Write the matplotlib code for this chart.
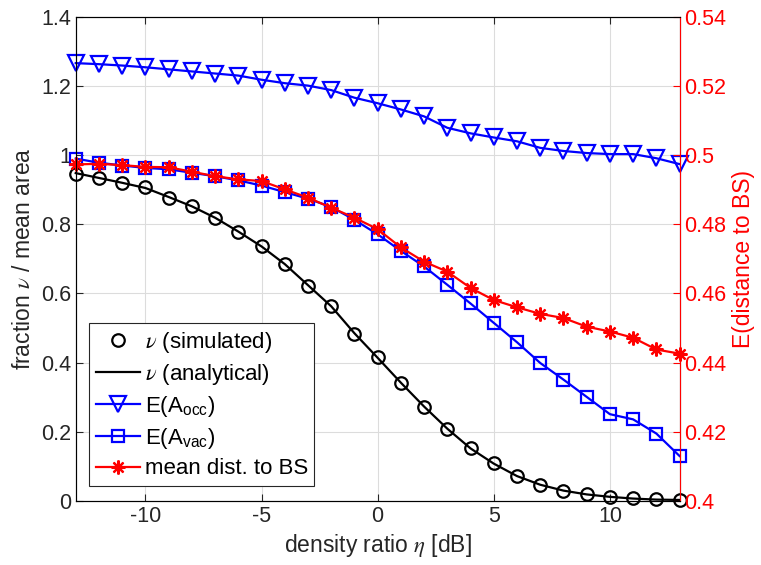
import numpy as np
import matplotlib
matplotlib.use("Agg")
from matplotlib import pyplot as plt
from matplotlib.lines import Line2D
from matplotlib.ticker import FormatStrFormatter

plt.rcParams['font.family'] = ['Liberation Sans', 'DejaVu Sans']
plt.rcParams['mathtext.fontset'] = 'stix'
plt.rcParams['axes.unicode_minus'] = False

# density ratio eta [dB]
eta = list(range(-13, 14))

nuSimulated = [0.946, 0.933, 0.920, 0.908, 0.877, 0.853, 0.819, 0.778, 0.738,
               0.685, 0.622, 0.565, 0.483, 0.415, 0.341, 0.272, 0.209, 0.152,
               0.109, 0.072, 0.046, 0.030, 0.020, 0.012, 0.008, 0.005, 0.003]
nuAnalytical = [0.948, 0.934, 0.920, 0.905, 0.879, 0.852, 0.819, 0.779, 0.736,
                0.685, 0.624, 0.563, 0.485, 0.414, 0.342, 0.273, 0.209, 0.152,
                0.108, 0.072, 0.047, 0.030, 0.019, 0.012, 0.007, 0.004, 0.003]
areaOcc = [1.266, 1.263, 1.259, 1.254, 1.248, 1.242, 1.236, 1.230, 1.218,
           1.208, 1.201, 1.188, 1.166, 1.150, 1.132, 1.112, 1.079, 1.063,
           1.051, 1.040, 1.021, 1.012, 1.006, 1.003, 1.003, 0.991, 0.974]
areaVac = [0.990, 0.978, 0.970, 0.963, 0.959, 0.949, 0.939, 0.927, 0.912,
           0.893, 0.874, 0.850, 0.813, 0.771, 0.723, 0.678, 0.625, 0.571,
           0.515, 0.459, 0.399, 0.351, 0.301, 0.251, 0.236, 0.195, 0.130]
meanDist = [0.4973, 0.4975, 0.4971, 0.4966, 0.4965, 0.4952, 0.4939, 0.4930,
            0.4925, 0.4901, 0.4877, 0.4848, 0.4819, 0.4786, 0.4733, 0.4692,
            0.4663, 0.4616, 0.4581, 0.4560, 0.4541, 0.4529, 0.4504, 0.4490,
            0.4472, 0.4438, 0.4426]

fig = plt.figure(figsize=(7.61, 5.65), dpi=100)
ax = fig.add_axes([0.0995, 0.1133, 0.7935, 0.857])
ax2 = ax.twinx()

lw = 1.6
ax.plot(eta, nuSimulated, 'o', color='k', mfc='none', ms=9, mew=lw,
        clip_on=False)
ax.plot(eta, nuAnalytical, '-', color='k', lw=lw, clip_on=False)
ax.plot(eta, areaOcc, '-v', color='b', mfc='none', ms=11, mew=lw, lw=lw,
        clip_on=False)
ax.plot(eta, areaVac, '-s', color='b', mfc='none', ms=9, mew=lw, lw=lw,
        clip_on=False)
ax2.plot(eta, meanDist, '-', color='r', marker=(8, 2, 0), ms=10, mew=lw,
         lw=lw, clip_on=False)

ax.set_xlim(-13, 13)
ax.set_ylim(0, 1.4)
ax.set_xticks([-10, -5, 0, 5, 10])
ax.set_yticks(np.arange(0, 1.41, 0.2))
ax.yaxis.set_major_formatter(FormatStrFormatter('%g'))
ax.grid(True, color='#dcdcdc', lw=0.8)
ax.set_axisbelow(True)
ax.tick_params(direction='in', top=True, labelsize=15.5, colors='#262626',
               length=5)
ax.tick_params(axis='y', right=False)
for s in ['left', 'bottom', 'top']:
    ax.spines[s].set_color('#262626')
ax.set_xlabel(r'density ratio $\eta$ [dB]', fontsize=16.5, color='#262626')
ax.set_ylabel(r'fraction $\nu$ / mean area', fontsize=16.5, color='#262626')

ax2.set_ylim(0.4, 0.54)
ax2.set_yticks(np.arange(0.4, 0.541, 0.02))
ax2.yaxis.set_major_formatter(FormatStrFormatter('%g'))
ax2.tick_params(direction='in', labelsize=15.5, colors='r', length=5)
ax2.spines['right'].set_color('r')
ax2.set_ylabel('E(distance to BS)', fontsize=16.5, color='r')

handles = [
    Line2D([], [], ls='none', marker='o', color='k', mfc='none', ms=9, mew=lw),
    Line2D([], [], ls='-', color='k', lw=lw),
    Line2D([], [], ls='-', marker='v', color='b', mfc='none', ms=11, mew=lw, lw=lw),
    Line2D([], [], ls='-', marker='s', color='b', mfc='none', ms=9, mew=lw, lw=lw),
    Line2D([], [], ls='-', marker=(8, 2, 0), color='r', ms=10, mew=lw, lw=lw),
]
labels = [r'$\nu$ (simulated)', r'$\nu$ (analytical)',
          r'E(A$_\mathregular{occ}$)', r'E(A$_\mathregular{vac}$)',
          'mean dist. to BS']
leg = ax2.legend(handles, labels, loc='lower left',
                 bbox_to_anchor=(0.022, 0.031), fontsize=16,
                 fancybox=False, framealpha=1, edgecolor='#262626',
                 handlelength=2.0, handletextpad=0.2, labelspacing=0.32,
                 borderpad=0.3, borderaxespad=0)
leg.get_frame().set_linewidth(0.8)

fig.savefig('out.png', dpi=100)
